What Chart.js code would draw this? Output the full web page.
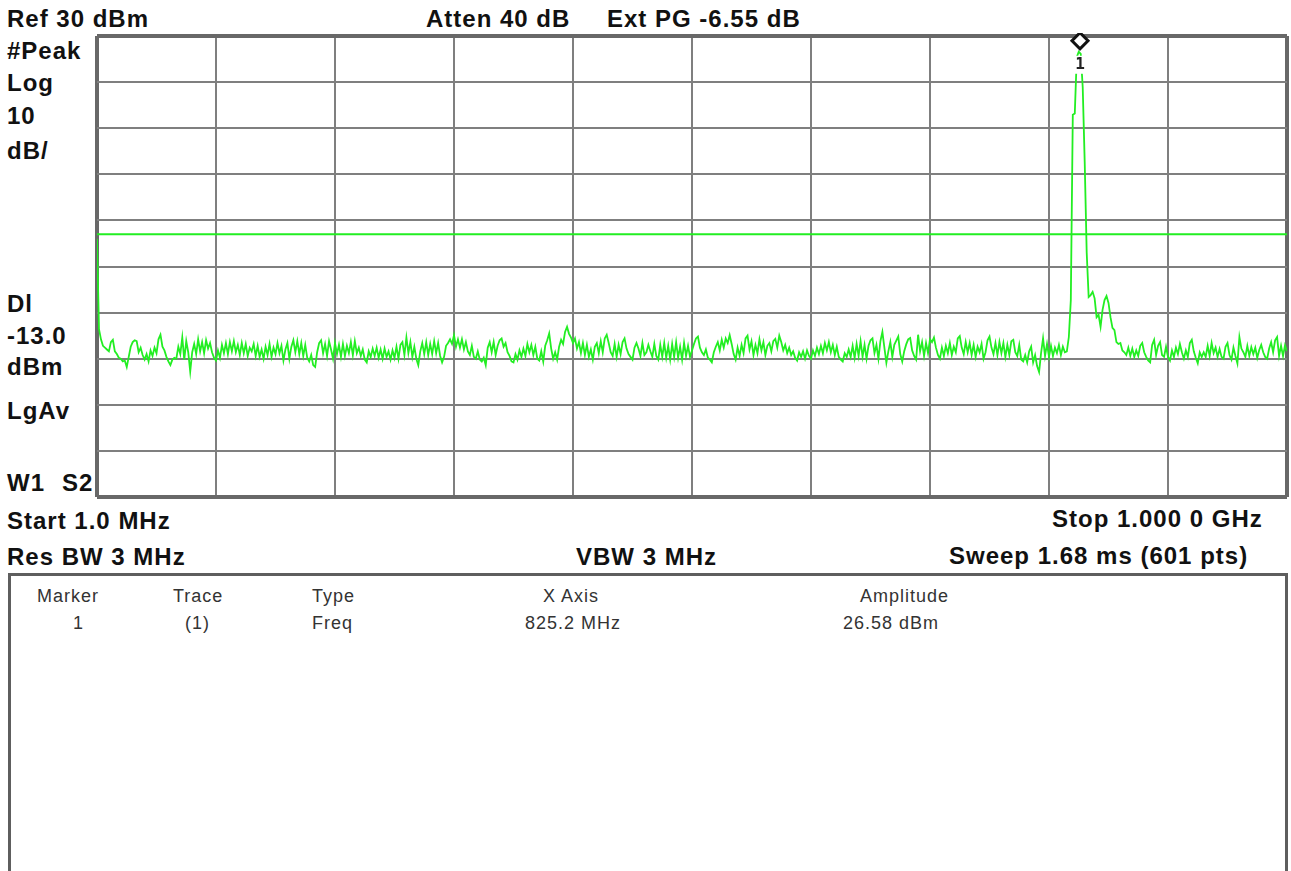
<!DOCTYPE html>
<html>
<head>
<meta charset="utf-8">
<script src="https://cdn.jsdelivr.net/npm/chart.js@4.4.0/dist/chart.umd.min.js"></script>
<style>
html, body { margin: 0; padding: 0; background: #fff; overflow: hidden; }
body { width: 1291px; height: 871px; position: relative; font-family: "Liberation Sans", Arial, sans-serif; }
.hd { position: absolute; font-size: 24px; line-height: 24px; font-weight: bold; letter-spacing: 1px; color: #111; white-space: pre; }
.tb { position: absolute; font-size: 18px; line-height: 18px; letter-spacing: 1px; color: #333; white-space: pre; }
#plot { position: absolute; left: 94px; top: 33px; width: 1196px; height: 467px; }
#panel { position: absolute; left: 8px; top: 573px; width: 1274px; height: 320px; border: 3px solid #5e5e5e; border-bottom: none; }
</style>
</head>
<body>
<div id="plot"><canvas id="spectrum"></canvas></div>
<div id="panel"></div>

<div class="hd" style="left:7px;top:7px">Ref 30 dBm</div>
<div class="hd" style="left:426px;top:7px">Atten 40 dB</div>
<div class="hd" style="left:607px;top:7px">Ext PG -6.55 dB</div>
<div class="hd" style="left:7px;top:39px">#Peak</div>
<div class="hd" style="left:7px;top:71px">Log</div>
<div class="hd" style="left:7px;top:104px">10</div>
<div class="hd" style="left:7px;top:139px">dB/</div>
<div class="hd" style="left:7px;top:292px">Dl</div>
<div class="hd" style="left:7px;top:324px">-13.0</div>
<div class="hd" style="left:7px;top:355px">dBm</div>
<div class="hd" style="left:7px;top:399px">LgAv</div>
<div class="hd" style="left:7px;top:471px">W1</div>
<div class="hd" style="left:62px;top:471px">S2</div>
<div class="hd" style="left:7px;top:509px">Start 1.0 MHz</div>
<div class="hd" style="left:1052px;top:507px">Stop 1.000 0 GHz</div>
<div class="hd" style="left:7px;top:545px">Res BW 3 MHz</div>
<div class="hd" style="left:576px;top:545px">VBW 3 MHz</div>
<div class="hd" style="left:949px;top:544px">Sweep 1.68 ms (601 pts)</div>

<div id="table"></div>

<script>
'use strict';

// sweep setup
const START_MHZ = 1.0;
const STOP_MHZ = 1000.0;
const POINTS = 601;
const DISPLAY_LINE_DBM = -13.0;
const MARKER_FREQ_MHZ = 825.2;
const MARKER_DBM = 26.58;

// graticule (10 divisions each way)
const freqDivs = [1, 100.9, 200.8, 300.7, 400.6, 500.5, 600.4, 700.3, 800.2, 900.1, 1000];
const dbmDivs = [-70, -60, -50, -40, -30, -20, -10, 0, 10, 20, 30];

// marker table
const tableHead = ['Marker', 'Trace', 'Type', 'X Axis', 'Amplitude'];
const tableRow = ['1', '(1)', 'Freq', '825.2 MHz', '26.58 dBm'];

// trace 1, dBm (601 pts)
const traceDbm = [
    -14.0, -33.6, -35.8, -37.2, -37.6, -38.0, -38.4, -36.4, -35.9, -38.4, -39.0, -39.8, -40.0, -40.6, -40.4, -41.8, -39.6, -37.4, -36.4, -36.0,
    -36.2, -38.6, -37.6, -39.2, -40.2, -39.0, -40.6, -38.2, -39.4, -37.6, -38.8, -35.8, -34.8, -37.4, -38.2, -39.6, -40.6, -41.4, -40.2, -39.8,
    -40.0, -37.4, -39.0, -35.4, -40.2, -36.2, -38.6, -42.8, -38.6, -36.8, -39.0, -35.8, -38.4, -36.4, -38.8, -36.0, -37.8, -36.6, -38.6, -39.8,
    -40.4, -38.2, -39.8, -37.0, -38.8, -36.6, -39.0, -36.4, -38.4, -36.2, -38.6, -37.0, -39.2, -36.6, -38.8, -36.8, -39.4, -37.6, -38.4, -36.8,
    -39.4, -37.2, -39.6, -38.0, -40.0, -37.4, -39.2, -36.8, -39.6, -37.6, -39.0, -36.6, -38.8, -37.2, -40.4, -38.0, -36.6, -40.0, -37.4, -36.0,
    -38.6, -36.2, -39.0, -36.6, -39.4, -37.0, -39.8, -40.6, -39.2, -41.4, -41.8, -38.6, -36.6, -36.0, -38.8, -36.8, -39.4, -36.2, -38.0, -40.0,
    -36.6, -39.0, -37.0, -39.6, -36.8, -39.4, -37.2, -38.8, -36.4, -39.2, -36.2, -38.8, -37.6, -39.4, -38.0, -40.2, -40.8, -38.4, -39.6, -37.8,
    -39.4, -37.6, -39.8, -38.0, -40.0, -37.8, -39.6, -38.4, -40.2, -38.2, -39.8, -37.4, -40.0, -37.0, -36.4, -39.2, -35.4, -38.8, -36.4, -39.6,
    -37.4, -40.0, -41.4, -38.4, -36.6, -39.0, -36.4, -39.2, -36.8, -39.0, -36.2, -38.8, -36.6, -39.4, -40.8, -39.6, -37.2, -36.6, -35.8, -36.8,
    -34.9, -37.4, -35.8, -37.6, -35.8, -38.0, -36.4, -38.4, -39.2, -37.2, -39.6, -40.0, -38.4, -40.2, -40.6, -39.8, -41.4, -37.6, -36.4, -38.6,
    -36.4, -39.2, -37.2, -36.0, -35.6, -37.4, -36.6, -38.6, -39.4, -40.6, -40.8, -39.0, -40.2, -38.2, -39.6, -37.8, -39.4, -36.8, -38.6, -37.0,
    -39.2, -37.4, -40.0, -40.4, -38.4, -40.6, -37.2, -36.0, -34.5, -37.8, -40.0, -38.6, -40.2, -37.4, -35.9, -36.8, -34.2, -33.1, -34.6, -35.4,
    -36.6, -35.6, -37.8, -36.4, -38.8, -36.6, -39.2, -37.0, -39.6, -38.0, -40.2, -37.4, -36.6, -38.8, -36.2, -38.6, -35.6, -34.8, -36.6, -38.6,
    -39.4, -36.8, -39.6, -37.0, -39.0, -36.4, -35.6, -37.8, -39.0, -39.6, -40.2, -37.6, -36.6, -37.8, -39.4, -36.6, -39.2, -38.6, -37.0, -38.4,
    -39.6, -36.8, -39.4, -40.2, -37.0, -39.6, -36.6, -39.8, -37.2, -40.2, -36.8, -39.6, -36.4, -39.8, -37.4, -40.2, -36.6, -39.4, -37.2, -39.6,
    -38.2, -36.8, -35.6, -35.2, -37.6, -38.6, -39.2, -38.0, -39.8, -40.2, -40.8, -38.6, -37.4, -36.4, -38.2, -35.9, -37.6, -35.6, -36.6, -34.9,
    -36.8, -39.0, -40.2, -37.6, -39.4, -37.0, -38.8, -35.6, -35.0, -38.0, -36.2, -39.2, -37.0, -38.8, -35.8, -38.2, -36.4, -39.2, -37.2, -36.6,
    -38.4, -36.2, -35.7, -37.6, -35.0, -36.4, -38.2, -37.0, -38.8, -37.6, -39.2, -38.4, -39.8, -40.4, -38.6, -39.6, -38.4, -40.0, -38.2, -39.4,
    -40.0, -38.2, -39.4, -37.6, -39.0, -37.2, -38.8, -36.6, -38.2, -36.4, -38.6, -37.0, -39.2, -37.4, -39.6, -40.2, -40.6, -38.8, -39.6, -38.0,
    -39.6, -37.2, -39.8, -36.8, -39.4, -36.2, -39.6, -37.0, -40.0, -37.2, -36.0, -35.6, -38.8, -37.0, -40.0, -36.2, -34.2, -37.6, -40.9, -38.4,
    -36.4, -39.6, -37.0, -36.1, -35.2, -39.0, -40.6, -38.4, -36.9, -35.8, -35.5, -38.2, -39.4, -40.2, -34.8, -38.4, -36.4, -39.4, -36.6, -38.8,
    -35.8, -36.4, -35.4, -37.6, -39.2, -40.0, -37.6, -39.4, -37.2, -38.8, -36.6, -39.2, -37.4, -38.6, -35.6, -35.1, -37.6, -39.0, -36.4, -38.6,
    -36.6, -39.2, -37.0, -39.6, -37.4, -38.6, -36.8, -40.0, -38.6, -36.0, -35.2, -37.6, -39.0, -36.6, -39.2, -36.4, -38.8, -36.6, -39.6, -37.0,
    -39.2, -36.2, -35.9, -38.6, -39.4, -37.0, -40.2, -40.6, -39.2, -40.8, -38.4, -37.4, -40.8, -39.2, -41.6, -42.9, -38.8, -35.6, -39.4, -36.8,
    -39.6, -37.2, -39.4, -37.6, -38.8, -37.0, -39.2, -37.4, -38.6, -38.4, -35.3, -27.3, 12.9, 13.2, 25.4, 26.58, 26.1, 18.9, 2.7, -16.9,
    -26.6, -26.2, -25.5, -26.9, -31.0, -30.5, -33.1, -29.4, -27.3, -26.4, -27.9, -31.0, -33.3, -33.8, -36.4, -36.8, -36.6, -38.2, -38.6, -39.2,
    -37.6, -39.4, -37.8, -39.6, -38.2, -39.4, -37.2, -36.6, -38.6, -39.6, -40.4, -40.8, -37.0, -35.9, -39.2, -37.2, -36.4, -39.2, -39.6, -37.4,
    -39.6, -40.4, -38.2, -39.6, -37.6, -39.0, -36.8, -38.6, -40.0, -38.2, -39.6, -36.6, -35.9, -38.4, -39.8, -41.0, -38.6, -39.6, -38.6, -39.6,
    -37.2, -39.4, -36.6, -38.8, -37.6, -39.6, -37.9, -39.6, -40.0, -37.4, -36.6, -39.2, -40.2, -37.6, -39.4, -41.0, -35.3, -37.8, -38.6, -39.6,
    -37.2, -39.4, -37.5, -39.0, -37.6, -39.8, -38.1, -37.0, -38.6, -39.6, -40.0, -37.8, -36.4, -38.6, -36.0, -35.3, -39.4, -37.2, -39.4, -37.1,
    -38.4
];

const TRACE_GREEN = '#22ee22';
const GRID = '#7f7f7f';
const FRAME = '#686868';

// marker table text
const headX = [37, 173, 312, 543, 860];
const rowX = [73, 185, 312, 525, 843];
const table = document.getElementById('table');
tableHead.forEach((t, i) => {
    const d = document.createElement('div');
    d.className = 'tb';
    d.style.left = headX[i] + 'px';
    d.style.top = '587px';
    d.textContent = t;
    table.appendChild(d);
});
tableRow.forEach((t, i) => {
    const d = document.createElement('div');
    d.className = 'tb';
    d.style.left = rowX[i] + 'px';
    d.style.top = '614px';
    d.textContent = t;
    table.appendChild(d);
});

const stepMHz = (STOP_MHZ - START_MHZ) / (POINTS - 1);
const tracePts = traceDbm.map((v, i) => ({ x: START_MHZ + i * stepMHz, y: v }));

// diamond + "1" above the marked point
const markerPlugin = {
    id: 'marker1',
    afterDatasetsDraw(chart) {
        const { ctx, scales } = chart;
        const px = Math.round(scales.x.getPixelForValue(MARKER_FREQ_MHZ));
        const py = scales.y.getPixelForValue(MARKER_DBM);
        ctx.save();
        ctx.fillStyle = '#fff';
        ctx.fillRect(px - 6, py + 4, 14, 18);
        ctx.fillStyle = '#222';
        ctx.font = 'bold 16px "DejaVu Sans Mono"';
        ctx.textAlign = 'center';
        ctx.textBaseline = 'middle';
        ctx.fillText('1', px + 1, py + 13);
        ctx.beginPath();
        ctx.moveTo(px + 1, py - 19);
        ctx.lineTo(px + 9, py - 11);
        ctx.lineTo(px + 1, py - 3);
        ctx.lineTo(px - 7, py - 11);
        ctx.closePath();
        ctx.fillStyle = '#fff';
        ctx.fill();
        ctx.lineWidth = 3;
        ctx.strokeStyle = '#111';
        ctx.stroke();
        ctx.restore();
    }
};

const gridOpts = {
    color: c => (c.index === 0 || c.index === 10) ? FRAME : GRID,
    lineWidth: c => (c.index === 0 || c.index === 10) ? 4 : 2,
    drawTicks: false
};

new Chart(document.getElementById('spectrum'), {
    type: 'line',
    data: {
        datasets: [{
            data: tracePts,
            borderColor: TRACE_GREEN,
            borderWidth: 1.8,
            pointRadius: 0,
            tension: 0
        }, {
            data: [{ x: START_MHZ, y: DISPLAY_LINE_DBM }, { x: STOP_MHZ, y: DISPLAY_LINE_DBM }],
            borderColor: TRACE_GREEN,
            borderWidth: 2,
            pointRadius: 0
        }]
    },
    options: {
        responsive: true,
        maintainAspectRatio: false,
        animation: false,
        layout: { padding: 3 },
        plugins: { legend: { display: false }, tooltip: { enabled: false } },
        scales: {
            x: {
                type: 'linear',
                min: START_MHZ,
                max: STOP_MHZ,
                afterBuildTicks: s => { s.ticks = freqDivs.map(v => ({ value: v })); },
                afterFit: s => { s.height = 0; },
                ticks: { display: false },
                grid: gridOpts,
                border: { display: false }
            },
            y: {
                min: -70,
                max: 30,
                afterBuildTicks: s => { s.ticks = dbmDivs.map(v => ({ value: v })); },
                afterFit: s => { s.width = 0; },
                ticks: { display: false },
                grid: gridOpts,
                border: { display: false }
            }
        }
    },
    plugins: [markerPlugin]
});
</script>
</body>
</html>
